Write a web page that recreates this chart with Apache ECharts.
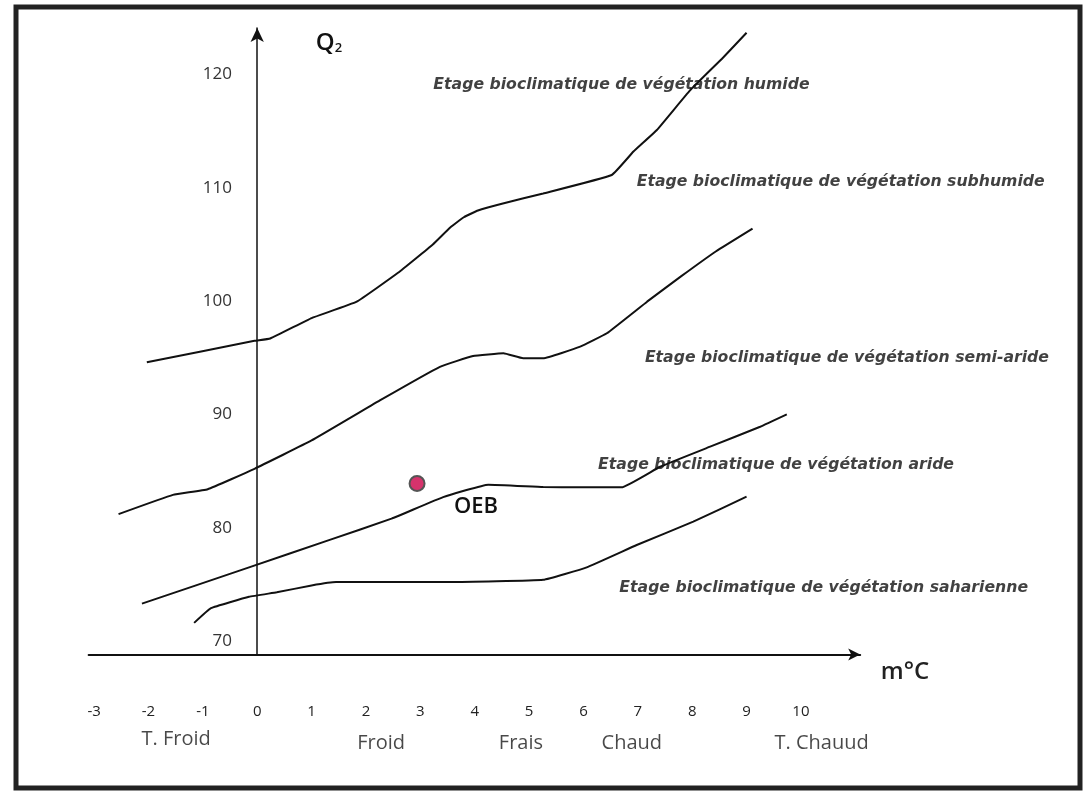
<!DOCTYPE html>
<html>
<head>
<meta charset="utf-8">
<script src="https://cdn.jsdelivr.net/npm/echarts@6/dist/echarts.min.js"></script>
<style>
html,body{margin:0;padding:0;background:#fff;}
#chart{width:1086px;height:791px;}
</style>
</head>
<body>
<div id="chart"></div>
<script>
// ---- tick labels ----
const xTicks = [-3,-2,-1,0,1,2,3,4,5,6,7,8,9,10];
const yTicks = [70,80,90,100,110,120];

// ---- boundary curves [m (°C), Q2] ----
const limitHumide = [[-2.03,94.6],[-0.05,96.5],[0.24,96.7],[1.0,98.5],[1.83,99.95],[2.59,102.5],[3.23,105.0],[3.55,106.5],[3.80,107.4],[4.06,108.0],[4.50,108.6],[5.26,109.5],[6.52,111.13],[6.92,113.2],[7.35,115.1],[7.96,118.6],[8.57,121.5],[9.0,123.69]];
const limitSubhumide = [[-2.55,81.2],[-1.55,82.9],[-0.91,83.4],[-0.05,85.2],[1.0,87.7],[2.28,91.3],[3.36,94.2],[3.97,95.15],[4.53,95.39],[4.89,94.95],[5.26,94.95],[5.94,95.98],[6.43,97.16],[7.17,99.95],[7.80,102.2],[8.44,104.4],[9.11,106.4]];
const limitSemiAride = [[-2.12,73.3],[-0.15,76.5],[1.32,78.9],[2.47,80.8],[3.42,82.7],[4.25,83.8],[5.26,83.6],[5.94,83.56],[6.70,83.56],[7.41,85.38],[8.33,87.15],[9.25,88.91],[9.74,90.0]];
const limitAride = [[-1.16,71.6],[-0.85,72.9],[-0.15,73.9],[0.36,74.3],[1.0,74.9],[1.45,75.2],[3.55,75.2],[5.26,75.4],[6.06,76.5],[6.98,78.47],[8.02,80.53],[9.0,82.74]];

// ---- station ----
const stationName = ['OEB'];
const stationM = [2.94];
const stationQ2 = [83.9];

// ---- zone labels ----
const zoneNames = [
  'Etage bioclimatique de végétation humide',
  'Etage bioclimatique de végétation subhumide',
  'Etage bioclimatique de végétation semi-aride',
  'Etage bioclimatique de végétation aride',
  'Etage bioclimatique de végétation saharienne'
];
const zoneM = [3.24, 6.98, 7.13, 6.27, 6.66];
const zoneQ2 = [119.07, 110.54, 94.98, 85.53, 74.68];

// ---- winter classes ----
const classNames = ['T. Froid','Froid','Frais','Chaud','T. Chauud'];
const classM = [-1.49, 2.28, 4.85, 6.89, 10.38];
const classQ2 = [61.35, 61.0, 61.0, 61.0, 61.0];

const chart = echarts.init(document.getElementById('chart'));
const FONT = '"Open Sans", "Liberation Sans", sans-serif';
const lineStyle = {color:'#111', width:2};

function curve(name, data){
  return {name, type:'line', data, symbol:'none', smooth:0.1, lineStyle, silent:true, z:3};
}

chart.setOption({
  animation:false,
  backgroundColor:'#fff',
  grid:{left:88.65, right:225.8, top:28.05, bottom:136.4, containLabel:false},
  xAxis:{
    type:'value', min:-3.1, max:11.09,
    axisLine:{show:true, symbol:['none','arrow'], symbolSize:[9,12], lineStyle:{color:'#111', width:2}},
    axisTick:{show:false},
    splitLine:{show:false},
    axisLabel:{customValues:xTicks, margin:50, fontFamily:FONT, fontSize:15, color:'#222'}
  },
  yAxis:{
    type:'value', min:68.8, max:124.1,
    axisLine:{show:true, onZero:true, symbol:['none','arrow'], symbolSize:[10,14], lineStyle:{color:'#111', width:1.5}},
    axisTick:{show:false},
    splitLine:{show:false},
    axisLabel:{customValues:yTicks, margin:-143.35, fontFamily:FONT, fontSize:17, color:'#333'}
  },
  series:[
    curve('humide/subhumide', limitHumide),
    curve('subhumide/semi-aride', limitSubhumide),
    curve('semi-aride/aride', limitSemiAride),
    curve('aride/saharienne', limitAride),
    {
      name:'station', type:'scatter', z:5,
      data: stationM.map((m,i)=>({value:[m, stationQ2[i]], name:stationName[i]})),
      symbolSize:15,
      itemStyle:{color:'#d6336c', borderColor:'#555', borderWidth:2, opacity:1},
      label:{show:true, formatter:'{b}', position:'inside', offset:[59,23], fontFamily:FONT, fontSize:22, fontWeight:600, color:'#111'}
    },
    {
      name:'zones', type:'scatter', z:4, silent:true,
      data: zoneM.map((m,i)=>({value:[m, zoneQ2[i]], name:zoneNames[i]})),
      symbolSize:0,
      label:{show:true, formatter:'{b}', position:'right', distance:0, fontFamily:'"DejaVu Sans", sans-serif', fontStyle:'italic', fontWeight:'bold', fontSize:15.7, color:'#111'}
    },
    {
      name:'classes', type:'scatter', z:4, silent:true, clip:false,
      data: classM.map((m,i)=>({value:[m, classQ2[i]], name:classNames[i]})),
      symbolSize:0,
      label:{show:true, formatter:'{b}', position:'inside', fontFamily:FONT, fontSize:20, color:'#1a1a1a'}
    }
  ],
  graphic:[
    {type:'rect', shape:{x:16, y:7, width:1064, height:781}, style:{fill:'none', stroke:'#222', lineWidth:5}, silent:true},
    {type:'text', x:329, y:43, style:{text:'Q{s|2}', rich:{s:{fontSize:13, fontFamily:FONT, fontWeight:600, padding:[10,0,0,0], fill:'#111'}}, font:'600 24px "Open Sans"', fill:'#111', align:'center', verticalAlign:'middle'}},
    {type:'text', x:905, y:672, style:{text:'m°C', font:'600 24px "Open Sans"', fill:'#222', align:'center', verticalAlign:'middle'}}
  ]
});
</script>
</body>
</html>
